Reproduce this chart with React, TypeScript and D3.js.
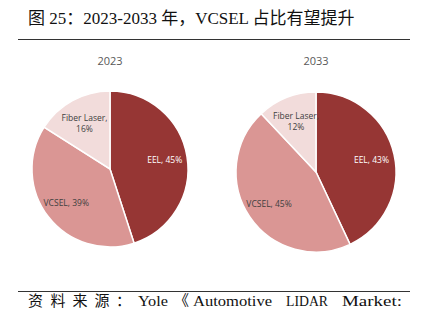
import React from "react";
import * as d3 from "d3";

const categories = ["EEL", "VCSEL", "Fiber Laser"];
const years = ["2023", "2033"];
const values2023 = [45, 39, 16];
const values2033 = [43, 45, 12];
const colors = ["#963634", "#DA9694", "#F2DCDB"];
const labelColors = ["#ffffff", "#404040", "#404040"];

const titleText = "图 25：2023-2033 年，VCSEL 占比有望提升";
const sourceWords = ["资", "料", "来", "源", "：", "Yole", "《", "Automotive", "LIDAR", "Market:"];
const sourceX = [28, 50.5, 72.5, 94.5, 116, 138, 174, 193, 286, 342];
const sourceLen = [0, 0, 0, 0, 0, 30, 0, 79, 42, 60];

const W = 421;
const H = 323;

type PieSpec = { cx: number; cy: number; r: number; values: number[]; year: string };

const pies: PieSpec[] = [
  { cx: 110, cy: 169, r: 78, values: values2023, year: years[0] },
  { cx: 316, cy: 172, r: 80, values: values2033, year: years[1] },
];

const labelFont = "'Open Sans', 'Noto Sans', sans-serif";
const serifFont = "'Liberation Serif', 'Noto Sans CJK SC', serif";

function Pie({ spec }: { spec: PieSpec }) {
  const pie = d3.pie<number>().sort(null).value((d) => d)(spec.values);
  const arc = d3.arc<d3.PieArcDatum<number>>().innerRadius(0).outerRadius(spec.r);
  const labelArc = d3
    .arc<d3.PieArcDatum<number>>()
    .innerRadius(spec.r * 0.71)
    .outerRadius(spec.r * 0.71);
  const fiberArc = d3
    .arc<d3.PieArcDatum<number>>()
    .innerRadius(spec.r * 0.68)
    .outerRadius(spec.r * 0.68);
  return (
    <g transform={`translate(${spec.cx},${spec.cy})`}>
      {pie.map((p, i) => (
        <path key={i} d={arc(p) || ""} fill={colors[i]} stroke="#ffffff" strokeWidth={1.5} />
      ))}
      {pie.map((p, i) => {
        const [x, y] = (i === 2 ? fiberArc : labelArc).centroid(p);
        const pct = `${spec.values[i]}%`;
        if (i === 2) {
          return (
            <text
              key={i}
              x={x}
              y={y}
              textAnchor="middle"
              fontSize={8.5}
              fontFamily={labelFont}
              fill={labelColors[i]}
            >
              <tspan x={x} dy={-2}>{categories[i] + ","}</tspan>
              <tspan x={x} dy={11}>{pct}</tspan>
            </text>
          );
        }
        return (
          <text
            key={i}
            x={x}
            y={y}
            dy={3}
            textAnchor="middle"
            fontSize={8.5}
            fontFamily={labelFont}
            fill={labelColors[i]}
          >
            {`${categories[i]}, ${pct}`}
          </text>
        );
      })}
      <text
        x={0}
        y={-spec.cy + 65}
        textAnchor="middle"
        fontSize={11}
        fontFamily={labelFont}
        fill="#595959"
      >
        {spec.year}
      </text>
    </g>
  );
}

export default function App() {
  return (
    <svg
      width={W}
      height={H}
      style={{ position: "absolute", left: 0, top: 0, background: "#ffffff" }}
    >
      <text x={28} y={24} fontSize={17} fontFamily={serifFont} fill="#111111">
        {titleText}
      </text>
      <line x1={18} x2={410} y1={39.5} y2={39.5} stroke="#333333" strokeWidth={1} />
      {pies.map((p, i) => (
        <Pie key={i} spec={p} />
      ))}
      <line x1={18} x2={410} y1={291.5} y2={291.5} stroke="#333333" strokeWidth={1} />
      {sourceWords.map((w, i) => (
        <text
          key={i}
          x={sourceX[i]}
          y={306}
          fontSize={15}
          fontFamily={serifFont}
          fill="#111111"
          {...(sourceLen[i] > 0 ? { textLength: sourceLen[i], lengthAdjust: "spacingAndGlyphs" } : {})}
        >
          {w}
        </text>
      ))}
    </svg>
  );
}
